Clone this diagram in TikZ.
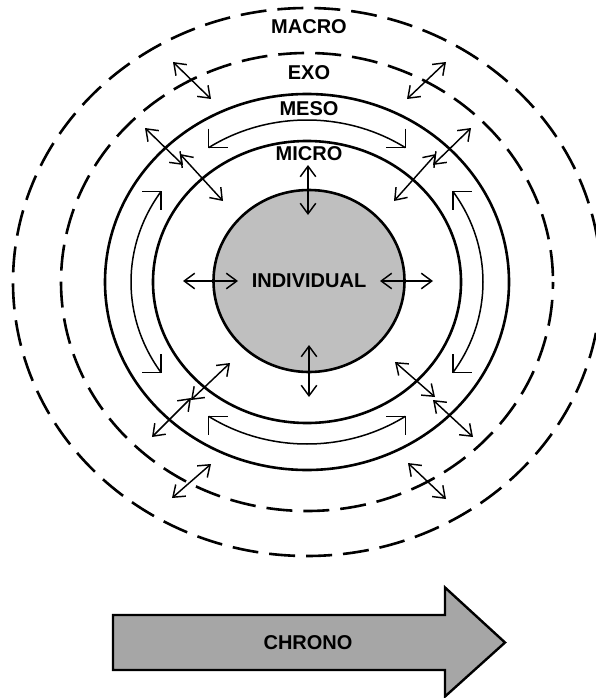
\documentclass[tikz,border=0pt]{standalone}
\usepackage{fontspec}
\setmainfont{Liberation Sans}
\usetikzlibrary{arrows.meta,calc,shapes.geometric}
\definecolor{indgray}{HTML}{BFBFBF}
\definecolor{chronogray}{HTML}{A6A6A6}
\newcommand\chev[3]{\draw[cur, line join=miter] ($(#1)+(#2)$) -- (#1) -- ($(#1)+(#3)$);}
\begin{document}
\begin{tikzpicture}[x=1pt,y=1pt,
  ring/.style={line width=2.6pt},
  dring/.style={line width=2.6pt, dash pattern=on 26pt off 11pt, dash phase=31pt},
  lab/.style={font=\fontsize{20}{21}\selectfont\bfseries, inner sep=0pt},
  dbl/.style={line width=1.45pt, {Straight Barb[length=10.5pt,width=15.5pt]}-{Straight Barb[length=10.5pt,width=15.5pt]}},
  cur/.style={line width=1.5pt}
]
\useasboundingbox (0,0) rectangle (596,-698);
\coordinate (c) at (307,-282);
\begin{scope}
  \clip (0,0) rectangle (596,-698);
  \draw[dring] (c) ellipse[x radius=294, y radius=274];
  \draw[dring] (c) ellipse[x radius=246, y radius=229];
\end{scope}
\draw[ring] (c) ellipse[x radius=202, y radius=188];
\draw[ring] (c) ellipse[x radius=154, y radius=141];
\node[draw, ellipse, fill=indgray, line width=2.6pt, minimum width=191, minimum height=182, inner sep=0pt, lab] (ind) at (309,-281) {INDIVIDUAL};

% labels
\node[lab] (macro) at (309,-27) {MACRO};
\node[lab] (exo) at (309,-73) {EXO};
\node[lab] (meso) at (309,-109) {MESO};
\node[lab] (micro) at (309,-154) {MICRO};

% curved double arrows between micro and meso
\draw[cur] ($(c)+(56:176 and 162)$) coordinate (t2) arc[start angle=56, end angle=124, x radius=176, y radius=162] coordinate (t1);
\chev{t1}{0,19}{19,0}
\chev{t2}{0,19}{-19,0}
\draw[cur] ($(c)+(146:176 and 162)$) coordinate (l1) arc[start angle=146, end angle=214, x radius=176, y radius=162] coordinate (l2);
\chev{l1}{-19,0}{0,-19}
\chev{l2}{-19,0}{0,19}
\draw[cur] ($(c)+(-34:176 and 162)$) coordinate (r2) arc[start angle=-34, end angle=34, x radius=176, y radius=162] coordinate (r1);
\chev{r1}{19,0}{0,-19}
\chev{r2}{19,0}{0,19}
\draw[cur] ($(c)+(236:176 and 162)$) coordinate (b1) arc[start angle=236, end angle=304, x radius=176, y radius=162] coordinate (b2);
\chev{b1}{19,0}{0,-19}
\chev{b2}{-19,0}{0,-19}

% straight double arrows
\draw[dbl] (308,-165) -- (308,-215);
\draw[dbl] (309,-345) -- (309,-397);
\draw[dbl] (183,-281) -- (238,-281);
\draw[dbl] (380,-281) -- (433,-281);
\draw[dbl] (173,-62) -- (211,-99);
\draw[dbl] (145,-128) -- (183,-165);
\draw[dbl] (180,-154) -- (223,-201);
\draw[dbl] (446,-62) -- (407,-99);
\draw[dbl] (471,-128) -- (433,-165);
\draw[dbl] (436,-154) -- (394,-201);
\draw[dbl] (230,-363) -- (191,-400);
\draw[dbl] (191,-398) -- (152,-437);
\draw[dbl] (211,-464) -- (172,-498);
\draw[dbl] (395,-362) -- (435,-397);
\draw[dbl] (433,-400) -- (473,-437);
\draw[dbl] (408,-463) -- (446,-499);

% chrono arrow
\draw[line width=2.4pt, fill=chronogray] (113,-615) -- (445,-615) -- (445,-587.5) -- (505,-642.5) -- (445,-696.5) -- (445,-670) -- (113,-670) -- cycle;
\node[lab] (chrono) at (308,-643) {CHRONO};
\end{tikzpicture}
\end{document}
